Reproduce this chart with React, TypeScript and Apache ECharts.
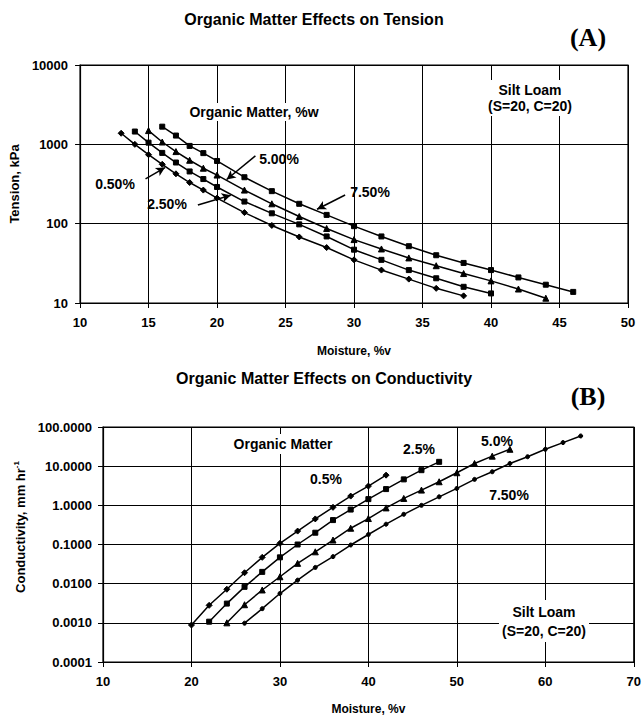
import React, { useEffect, useRef } from "react";
import * as echarts from "echarts";

// ---------- Chart A: Tension ----------
const tensionX05 = [13, 14, 15, 16, 17, 18, 19, 20, 22, 24, 26, 28, 30, 32, 34, 36, 38];
const tensionY05 = [1380, 1000, 740, 560, 425, 330, 265, 210, 138, 95, 68, 50, 35, 26, 20, 15.3, 12.3];
const tensionX25 = [14, 15, 16, 17, 18, 19, 20, 22, 24, 26, 28, 30, 32, 34, 36, 38, 40];
const tensionY25 = [1450, 1050, 780, 590, 455, 365, 290, 190, 135, 98, 69, 47, 35, 26, 20.5, 16, 13.2];
const tensionX50 = [15, 16, 17, 18, 19, 20, 22, 24, 26, 28, 30, 32, 34, 36, 38, 40, 42, 44];
const tensionY50 = [1490, 1070, 810, 630, 500, 410, 265, 178, 123, 87, 63, 48, 37, 29.5, 23.5, 19, 15, 11.5];
const tensionX75 = [16, 17, 18, 19, 20, 22, 24, 26, 28, 30, 32, 34, 36, 38, 40, 42, 44, 46];
const tensionY75 = [1670, 1290, 955, 775, 617, 385, 257, 178, 129, 93, 69, 52, 40, 32, 26, 21, 17, 13.8];
const tensionXTicks = { min: 10, max: 50, interval: 5 };
const tensionYRange = { min: 10, max: 10000 };

// ---------- Chart B: Conductivity ----------
const condX05 = [20, 22, 24, 26, 28, 30, 32, 34, 36, 38, 40, 42];
const condY05 = [0.00088, 0.0028, 0.0072, 0.019, 0.047, 0.107, 0.22, 0.45, 0.89, 1.72, 3.1, 5.9];
const condX25 = [22, 24, 26, 28, 30, 32, 34, 36, 38, 40, 42, 44, 46, 48];
const condY25 = [0.00107, 0.0031, 0.0083, 0.02, 0.047, 0.1, 0.2, 0.42, 0.78, 1.44, 2.6, 4.6, 7.9, 12.9];
const condX50 = [24, 26, 28, 30, 32, 34, 36, 38, 40, 42, 44, 46, 48, 50, 52, 54, 56];
const condY50 = [0.001, 0.0029, 0.0069, 0.015, 0.033, 0.065, 0.13, 0.26, 0.46, 0.86, 1.5, 2.45, 4.0, 6.8, 11.7, 18, 27];
const condX75 = [26, 28, 30, 32, 34, 36, 38, 40, 42, 44, 46, 48, 50, 52, 54, 56, 58, 60, 62, 64];
const condY75 = [0.00098, 0.0023, 0.0056, 0.0123, 0.026, 0.049, 0.097, 0.18, 0.33, 0.59, 1.0, 1.65, 2.7, 4.6, 7.2, 11.7, 17.4, 27, 40, 59];
const condXTicks = { min: 10, max: 70, interval: 10 };
const condYRange = { min: 0.0001, max: 100 };

const zip = (xs: number[], ys: number[]) => xs.map((x, i) => [x, ys[i]]);

const FONT = "Liberation Sans";
const SERIF = "Liberation Serif";

function lineSeries(name: string, xi: number, yi: number, xs: number[], ys: number[], symbol: string, size: number, extra: any = {}) {
  return {
    name,
    type: "line",
    xAxisIndex: xi,
    yAxisIndex: yi,
    data: zip(xs, ys),
    symbol,
    symbolSize: size,
    showSymbol: true,
    lineStyle: { color: "#000", width: 1.5 },
    itemStyle: { color: "#000", borderColor: "#000" },
    z: 5,
    ...extra,
  };
}

function arrow(from: number[], to: number[]) {
  return [{ coord: from }, { coord: to }];
}

function label(text: string, x: number, y: number, opts: any = {}) {
  return {
    type: "text", x, y, z: 10,
    style: {
      text, font: `bold 14px "${FONT}"`, fill: "#000", align: "center", verticalAlign: "middle",
      ...opts,
    },
  };
}

export default function App() {
  const ref = useRef<HTMLDivElement>(null);
  useEffect(() => {
    document.body.style.margin = "0";
    const chart = echarts.init(ref.current!, undefined, { renderer: "svg" });
    const axisLabel = { color: "#000", fontFamily: FONT, fontWeight: "bold", fontSize: 13 };
    const axisLine = { show: true, lineStyle: { color: "#000", width: 1.2 } };
    const splitLine = { show: true, lineStyle: { color: "#000", width: 1 } };
    const axisTick = { show: true, inside: false, length: 5, lineStyle: { color: "#000" } };
    const nameStyle = { color: "#000", fontFamily: FONT, fontWeight: "bold", fontSize: 13 };

    const markLineStyle = {
      silent: true,
      symbol: ["none", "arrow"],
      symbolSize: [7, 9],
      label: { show: false },
      lineStyle: { color: "#000", width: 1.5, type: "solid" },
    };

    const option: any = {
      animation: false,
      backgroundColor: "#fff",
      grid: [
        { left: 76, top: 65, width: 552, height: 238, show: true, borderColor: "#000", borderWidth: 1.2, backgroundColor: "transparent" },
        { left: 103, top: 427, width: 534, height: 235, show: true, borderColor: "#000", borderWidth: 1.2, backgroundColor: "transparent" },
      ],
      xAxis: [
        {
          gridIndex: 0, type: "value", ...tensionXTicks,
          axisLabel: { ...axisLabel, margin: 13 }, axisLine, splitLine, axisTick,
          name: "Moisture, %v", nameLocation: "middle", nameGap: 42, nameTextStyle: { ...nameStyle, fontSize: 12 },
        },
        {
          gridIndex: 1, type: "value", ...condXTicks,
          axisLabel: { ...axisLabel, margin: 13 }, axisLine, splitLine, axisTick,
          name: "Moisture, %v", nameLocation: "middle", nameGap: 41, nameTextStyle: { ...nameStyle, fontSize: 12 },
        },
      ],
      yAxis: [
        {
          gridIndex: 0, type: "log", logBase: 10, ...tensionYRange,
          axisLabel: { ...axisLabel, margin: 12, formatter: (v: number) => String(Math.round(v)) },
          axisLine, splitLine, axisTick,
          name: "Tension, kPa", nameLocation: "middle", nameGap: 46, nameTextStyle: nameStyle,
        },
        {
          gridIndex: 1, type: "log", logBase: 10, ...condYRange,
          axisLabel: { ...axisLabel, margin: 11, formatter: (v: number) => v.toFixed(4) },
          axisLine, splitLine, axisTick,
        },
      ],
      series: [
        lineSeries("0.50%", 0, 0, tensionX05, tensionY05, "diamond", 6, {
          markLine: { ...markLineStyle, data: [arrow([14.78, 366], [16.2, 510])] },
        }),
        lineSeries("2.50%", 0, 0, tensionX25, tensionY25, "rect", 5, {
          markLine: { ...markLineStyle, data: [arrow([18.6, 172], [21.0, 228])] },
        }),
        lineSeries("5.00%", 0, 0, tensionX50, tensionY50, "triangle", 6, {
          markLine: { ...markLineStyle, data: [arrow([22.8, 714], [20.7, 360])] },
        }),
        lineSeries("7.50%", 0, 0, tensionX75, tensionY75, "rect", 5, {
          markLine: { ...markLineStyle, data: [arrow([29.35, 230], [27.3, 152])] },
        }),
        lineSeries("0.5%", 1, 1, condX05, condY05, "diamond", 6),
        lineSeries("2.5%", 1, 1, condX25, condY25, "rect", 5),
        lineSeries("5.0%", 1, 1, condX50, condY50, "triangle", 6),
        lineSeries("7.50%", 1, 1, condX75, condY75, "circle", 4),
      ],
      graphic: [
        { type: "text", x: 314, y: 19, style: { text: "Organic Matter Effects on Tension", font: `bold 16px "${FONT}"`, fill: "#000", align: "center", verticalAlign: "middle" } },
        { type: "text", x: 588, y: 37, style: { text: "(A)", font: `bold 26px "${SERIF}"`, fill: "#000", align: "center", verticalAlign: "middle" } },
        { type: "text", x: 324, y: 378, style: { text: "Organic Matter Effects on Conductivity", font: `bold 16px "${FONT}"`, fill: "#000", align: "center", verticalAlign: "middle" } },
        { type: "text", x: 588, y: 396, style: { text: "(B)", font: `bold 26px "${SERIF}"`, fill: "#000", align: "center", verticalAlign: "middle" } },
        // Chart A annotations
        label("Organic Matter, %w", 254, 112, { backgroundColor: "#fff", padding: [2, 3] }),
        label("Silt Loam\n(S=20, C=20)", 530, 98, { lineHeight: 16, backgroundColor: "#fff", padding: [2, 3] }),
        label("5.00%", 279, 159),
        label("0.50%", 115, 184),
        label("2.50%", 167, 204),
        label("7.50%", 370, 192),
        // Chart B annotations
        label("Organic Matter", 283, 444, { backgroundColor: "#fff", padding: [3, 4] }),
        label("0.5%", 326, 479, { backgroundColor: "#fff", padding: [2, 3] }),
        label("2.5%", 419, 449, { backgroundColor: "#fff", padding: [2, 3] }),
        label("5.0%", 497, 441),
        label("7.50%", 509, 495, { backgroundColor: "#fff", padding: [2, 3] }),
        label("Silt Loam\n(S=20, C=20)", 544, 621, { lineHeight: 19, backgroundColor: "#fff", padding: [2, 3] }),
        {
          type: "text", x: 20, y: 527, rotation: Math.PI / 2, z: 10,
          style: {
            text: "Conductivity, mm hr{sup|-1}",
            font: `bold 13px "${FONT}"`, fill: "#000", align: "center", verticalAlign: "middle",
            rich: { sup: { font: `bold 8px "${FONT}"`, fill: "#000", verticalAlign: "top", padding: [0, 0, 7, 0] } },
          },
        },
      ],
    };
    chart.setOption(option);
    return () => chart.dispose();
  }, []);
  return <div ref={ref} style={{ position: "absolute", left: 0, top: 0, width: 644, height: 717 }} />;
}
